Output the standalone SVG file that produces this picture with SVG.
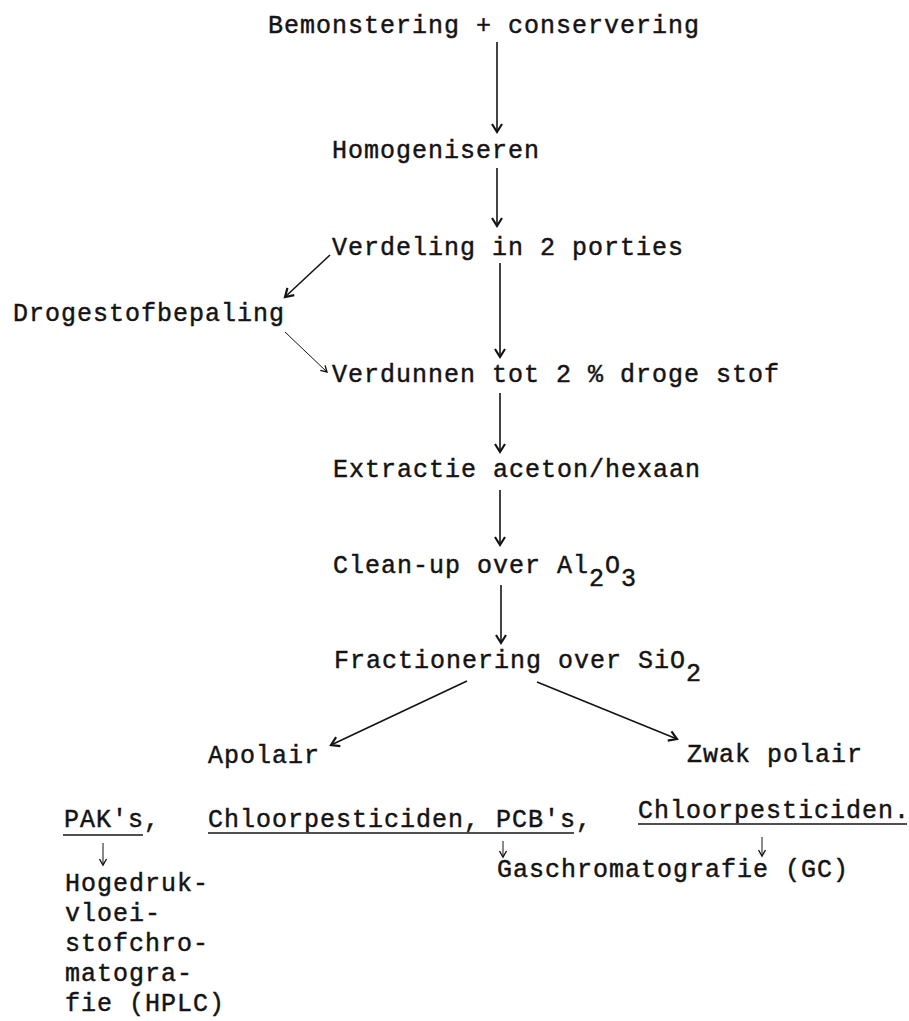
<svg xmlns="http://www.w3.org/2000/svg" width="909" height="1021" viewBox="0 0 909 1021">
<defs>
<style>
text{font-family:"Liberation Mono","DejaVu Sans Mono",monospace;font-size:25px;letter-spacing:1px;fill:#141414;stroke:#141414;stroke-width:0.45}
.c{fill:none;stroke:#141414;stroke-width:1.6}
.t{fill:none;stroke:#141414;stroke-width:1}
.u{stroke:#141414;stroke-width:1.4}
</style>
<marker id="ah" markerUnits="userSpaceOnUse" markerWidth="20" markerHeight="20" viewBox="-10 -10 20 20" refX="0" refY="0" orient="auto">
<path d="M-8,-5 L0,0 L-8,5" fill="none" stroke="#141414" stroke-width="2.2"/>
</marker>
<marker id="as" markerUnits="userSpaceOnUse" markerWidth="20" markerHeight="20" viewBox="-10 -10 20 20" refX="0" refY="0" orient="auto">
<path d="M-6,-3.5 L0,0 L-6,3.5" fill="none" stroke="#141414" stroke-width="1.4"/>
</marker>
</defs>
<rect width="909" height="1021" fill="#ffffff"/>
<g id="connectors">
<line class="c" x1="497" y1="42" x2="497" y2="132" marker-end="url(#ah)"/>
<line class="c" x1="497" y1="168" x2="497" y2="226" marker-end="url(#ah)"/>
<line class="c" x1="500" y1="263" x2="500" y2="357" marker-end="url(#ah)"/>
<line class="c" x1="500" y1="393" x2="500" y2="452" marker-end="url(#ah)"/>
<line class="c" x1="500" y1="490" x2="500" y2="545" marker-end="url(#ah)"/>
<line class="c" x1="501" y1="585" x2="501" y2="643" marker-end="url(#ah)"/>
<line class="c" x1="330" y1="255" x2="285" y2="297" marker-end="url(#ah)"/>
<line class="t" x1="285" y1="332" x2="327" y2="372" marker-end="url(#as)"/>
<line class="c" x1="467" y1="681" x2="331" y2="745" marker-end="url(#ah)"/>
<line class="c" x1="537" y1="682" x2="677" y2="739" marker-end="url(#ah)"/>
<line class="t" x1="103" y1="843" x2="103" y2="865" marker-end="url(#as)"/>
<line class="t" x1="503" y1="841" x2="503" y2="857" marker-end="url(#as)"/>
<line class="t" x1="762" y1="837" x2="762" y2="856" marker-end="url(#as)"/>
</g>
<g id="bemonstering"><text x="268" y="33">Bemonstering + conservering</text></g>
<g id="homogeniseren"><text x="332" y="158">Homogeniseren</text></g>
<g id="verdeling"><text x="332" y="255">Verdeling in 2 porties</text></g>
<g id="drogestofbepaling"><text x="13" y="321">Drogestofbepaling</text></g>
<g id="verdunnen"><text x="332" y="382">Verdunnen tot 2 % droge stof</text></g>
<g id="extractie"><text x="333" y="477">Extractie aceton/hexaan</text></g>
<g id="cleanup"><text x="333" y="573">Clean-up over Al<tspan dy="13">2</tspan><tspan dy="-13">O</tspan><tspan dy="13">3</tspan></text></g>
<g id="fractionering"><text x="334" y="668">Fractionering over SiO<tspan dy="13">2</tspan></text></g>
<g id="apolair"><text x="208" y="763">Apolair</text></g>
<g id="zwakpolair"><text x="687" y="762">Zwak polair</text></g>
<g id="pak"><text x="64" y="827">PAK's,</text><line class="u" x1="63" y1="835" x2="143" y2="835"/></g>
<g id="chloor-pcb"><text x="208" y="827">Chloorpesticiden, PCB's,</text><line class="u" x1="208" y1="833" x2="574" y2="833"/></g>
<g id="chloor"><text x="638" y="818">Chloorpesticiden.</text><line class="u" x1="638" y1="824" x2="907" y2="824"/></g>
<g id="gc"><text x="497" y="877">Gaschromatografie (GC)</text></g>
<g id="hplc">
<text x="65" y="891">Hogedruk-</text>
<text x="65" y="921">vloei-</text>
<text x="65" y="951">stofchro-</text>
<text x="65" y="981">matogra-</text>
<text x="65" y="1011">fie (HPLC)</text>
</g>
</svg>
